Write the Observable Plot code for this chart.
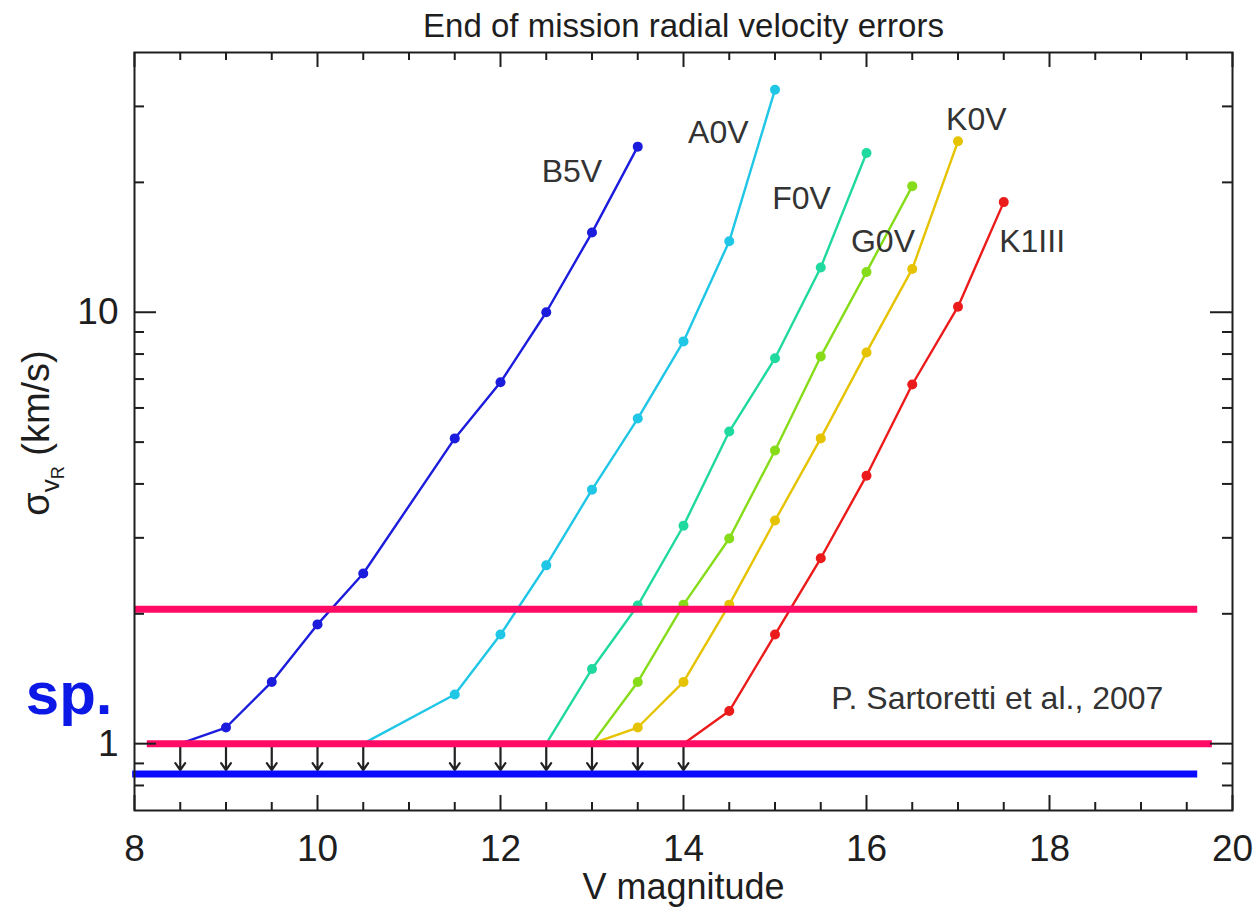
<!DOCTYPE html>
<html>
<head>
<meta charset="utf-8">
<script src="https://cdn.jsdelivr.net/npm/d3@7"></script>
<script src="https://cdn.jsdelivr.net/npm/@observablehq/plot@0.6"></script>
<style>
html, body { margin: 0; padding: 0; background: #fff; }
</style>
</head>
<body>
<div id="chart"></div>
<script>
// ---- data ----
const seriesNames  = ["B5V", "A0V", "F0V", "G0V", "K0V", "K1III"];
const seriesColors = ["#1c1cdc", "#1fc6e6", "#1fd99e", "#86dc18", "#e6c300", "#ec1b1b"];

const magB5V   = [8.5, 9, 9.5, 10, 10.5, 11.5, 12, 12.5, 13, 13.5];
const errB5V   = [1.0, 1.09, 1.39, 1.89, 2.48, 5.10, 6.88, 10.0, 15.3, 24.2];
const magA0V   = [10.5, 11.5, 12, 12.5, 13, 13.5, 14, 14.5, 15];
const errA0V   = [1.0, 1.30, 1.79, 2.59, 3.88, 5.67, 8.56, 14.6, 32.8];
const magF0V   = [12.5, 13, 13.5, 14, 14.5, 15, 15.5, 16];
const errF0V   = [1.0, 1.49, 2.09, 3.20, 5.29, 7.82, 12.7, 23.4];
const magG0V   = [13, 13.5, 14, 14.5, 15, 15.5, 16, 16.5];
const errG0V   = [1.0, 1.39, 2.10, 2.99, 4.78, 7.90, 12.4, 19.6];
const magK0V   = [13, 13.5, 14, 14.5, 15, 15.5, 16, 16.5, 17];
const errK0V   = [1.0, 1.09, 1.39, 2.10, 3.29, 5.10, 8.07, 12.6, 24.9];
const magK1III = [14, 14.5, 15, 15.5, 16, 16.5, 17, 17.5];
const errK1III = [1.0, 1.19, 1.79, 2.69, 4.18, 6.80, 10.3, 18.0];

// series name labels (positions, data units)
const labelText = ["B5V", "A0V", "F0V", "G0V", "K0V", "K1III"];
const labelMag  = [12.78, 14.38, 15.29, 16.18, 17.20, 17.81];
const labelErr  = [21.2, 26.0, 18.3, 14.6, 28.0, 14.6];

// magnitudes where the error is only an upper limit (arrows)
const limitMags = [8.5, 9, 9.5, 10, 10.5, 11.5, 12, 12.5, 13, 13.5, 14];
const limitFrom = 0.995;
const limitTo   = 0.868;

// horizontal reference lines
const refErr    = [2.05, 1.0, 0.85];
const refFrom   = [8.0, 8.14, 7.98];
const refTo     = [19.62, 19.78, 19.62];
const refColor  = ["#ff0a64", "#ff0a64", "#0a0aff"];

// ticks
const xTickLabels = [8, 10, 12, 14, 16, 18, 20];
const xMinorTicks = [8.5, 9, 9.5, 10.5, 11, 11.5, 12.5, 13, 13.5, 14.5, 15, 15.5, 16.5, 17, 17.5, 18.5, 19, 19.5];
const yTickLabels = [1, 10];
const yMinorTicks = [0.8, 0.9, 2, 3, 4, 5, 6, 7, 8, 9, 20, 30];

const titleText    = "End of mission radial velocity errors";
const xLabelText   = "V magnitude";
const citationText = "P. Sartoretti et al., 2007";
const citationMag  = 17.43;
const citationErr  = 1.27;
const sideText     = "sp.";
const sideErr      = 1.30;

// ---- build table ----
const mags = [magB5V, magA0V, magF0V, magG0V, magK0V, magK1III];
const errs = [errB5V, errA0V, errF0V, errG0V, errK0V, errK1III];
const rows = [];
seriesNames.forEach((s, i) => mags[i].forEach((m, j) => rows.push({series: s, mag: m, err: errs[i][j]})));
const refs = refErr.map((e, i) => ({err: e, x1: refFrom[i], x2: refTo[i], color: refColor[i]}));
const labels = labelText.map((t, i) => ({text: t, mag: labelMag[i], err: labelErr[i]}));

const W = 1257, H = 916;
const mL = 134, mR = 25, mT = 52, mB = 106;
const pw = W - mL - mR, ph = H - mT - mB;
const font = "'Liberation Sans', Arial, Helvetica, sans-serif";
const ink = "#1e1e1e";

function yLabelMark(index, scales, values, dims) {
  const cy = (dims.marginTop + dims.height - dims.marginBottom) / 2;
  const t = d3.create("svg:text")
    .attr("transform", `translate(49, ${cy + 2}) rotate(-90)`)
    .attr("text-anchor", "middle")
    .attr("fill", ink)
    .attr("font-family", font)
    .attr("font-size", 38);
  t.append("tspan").text("σ");
  t.append("tspan").attr("font-size", 26).attr("dy", 10).text("v");
  t.append("tspan").attr("font-size", 18).attr("dy", 5).text("R");
  t.append("tspan").attr("dy", -15).text(" (km/s)");
  return t.node();
}

const chart = Plot.plot({
  width: W, height: H,
  marginLeft: mL, marginRight: mR, marginTop: mT, marginBottom: mB,
  style: {fontFamily: font, background: "#fff", overflow: "visible"},
  x: {domain: [8, 20], axis: null},
  y: {type: "log", domain: [0.7, 40], axis: null},
  color: {domain: seriesNames, range: seriesColors},
  marks: [
    Plot.line(rows, {x: "mag", y: "err", z: "series", stroke: "series", strokeWidth: 2.4}),
    Plot.dot(rows.filter(d => d.err > 1), {x: "mag", y: "err", fill: "series", r: 5}),
    Plot.arrow(limitMags, {x1: d => d, x2: d => d, y1: limitFrom, y2: limitTo, stroke: "#222", strokeWidth: 2.2, headLength: 12, headAngle: 70}),
    Plot.ruleY(refs, {y: "err", x1: "x1", x2: "x2", stroke: "color", strokeWidth: 7}),
    Plot.text(labels, {x: "mag", y: "err", text: "text", fontSize: 32, fill: "#333"}),
    Plot.text([citationText], {x: citationMag, y: citationErr, fontSize: 32, fill: "#333"}),
    Plot.text([sideText], {x: 8, y: sideErr, dx: -22, textAnchor: "end", lineAnchor: "middle", fontSize: 60, fontWeight: "bold", fill: "#0b18e6"}),
    Plot.frame({stroke: ink, strokeWidth: 2}),
    // inward ticks
    Plot.tickX(xTickLabels, {x: d => d, insetTop: ph - 15, stroke: ink, strokeWidth: 2}),
    Plot.tickX(xMinorTicks, {x: d => d, insetTop: ph - 8, stroke: ink, strokeWidth: 2}),
    Plot.tickX(xTickLabels, {x: d => d, insetBottom: ph - 15, stroke: ink, strokeWidth: 2}),
    Plot.tickX(xMinorTicks, {x: d => d, insetBottom: ph - 8, stroke: ink, strokeWidth: 2}),
    Plot.tickY(yTickLabels, {y: d => d, insetRight: pw - 22, stroke: ink, strokeWidth: 2}),
    Plot.tickY(yMinorTicks, {y: d => d, insetRight: pw - 10, stroke: ink, strokeWidth: 2}),
    Plot.tickY(yTickLabels, {y: d => d, insetLeft: pw - 22, stroke: ink, strokeWidth: 2}),
    Plot.tickY(yMinorTicks, {y: d => d, insetLeft: pw - 10, stroke: ink, strokeWidth: 2}),
    Plot.axisX(xTickLabels, {tickSize: 0, tickPadding: 24, fontSize: 37, label: null, tickFormat: d => String(d), fill: ink}),
    Plot.axisY(yTickLabels, {tickSize: 0, tickPadding: 16, fontSize: 37, label: null, tickFormat: d => String(d), fill: ink}),
    Plot.text([xLabelText], {frameAnchor: "bottom", lineAnchor: "middle", dy: 77, fontSize: 36, fill: ink}),
    Plot.text([titleText], {frameAnchor: "top", lineAnchor: "middle", dy: -26, fontSize: 33, fill: ink}),
    yLabelMark
  ]
});
document.getElementById("chart").appendChild(chart);
</script>
</body>
</html>
